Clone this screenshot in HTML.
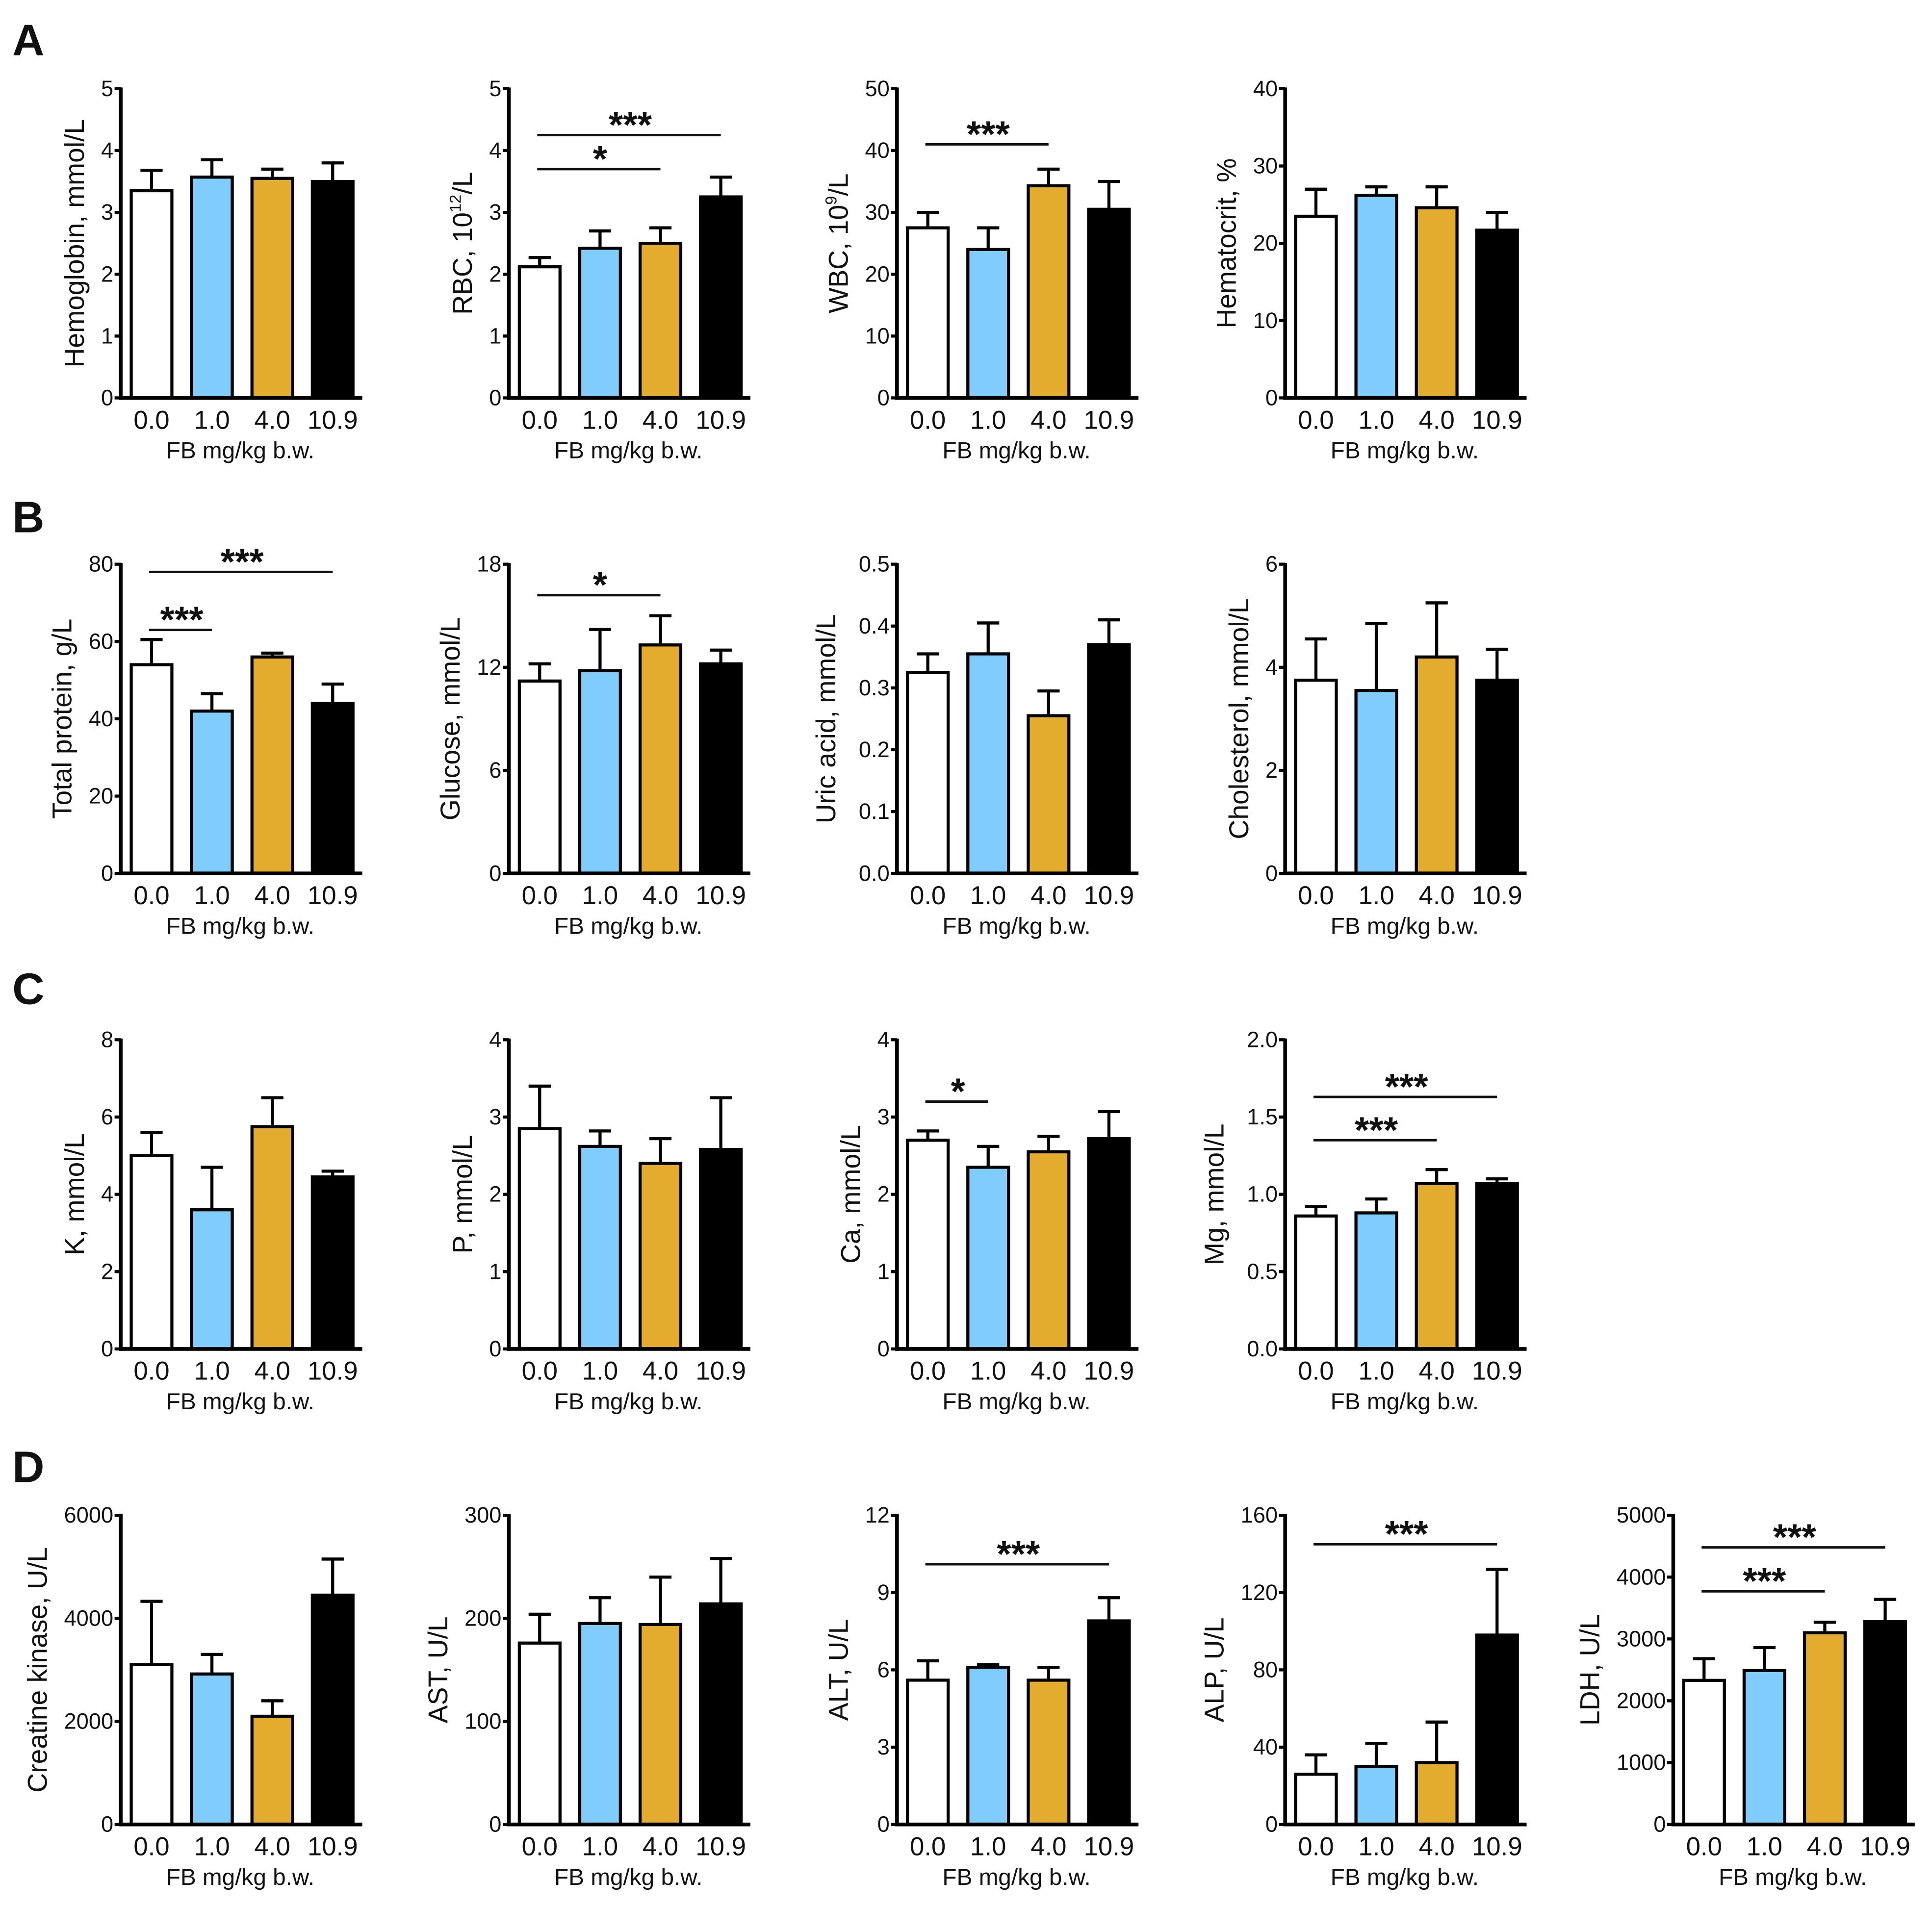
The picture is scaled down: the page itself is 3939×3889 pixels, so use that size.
<!DOCTYPE html>
<html><head><meta charset="utf-8"><style>
html,body{margin:0;padding:0;background:#fff}
svg{display:block}
text{font-family:"Liberation Sans",Arial,sans-serif;fill:#111}
</style></head><body>
<svg id="fig" xmlns="http://www.w3.org/2000/svg" width="3939" height="3889" viewBox="0 0 1568 1548" preserveAspectRatio="none">
<rect width="1568" height="1548" fill="#fff"/>
<text x="10" y="45" font-size="36" font-weight="bold">A</text>
<text x="10" y="432" font-size="36" font-weight="bold">B</text>
<text x="10" y="815" font-size="36" font-weight="bold">C</text>
<text x="10" y="1203" font-size="36" font-weight="bold">D</text>
</svg>
<script>
const categories = ["0.0","1.0","4.0","10.9"];
const barColors = ["#ffffff","#80ccfc","#e3ac2e","#000000"];
const titles = ["Hemoglobin, mmol/L","RBC, 10|12|/L","WBC, 10|9|/L","Hematocrit, %","Total protein, g/L","Glucose, mmol/L","Uric acid, mmol/L","Cholesterol, mmol/L","K, mmol/L","P, mmol/L","Ca, mmol/L","Mg, mmol/L","Creatine kinase, U/L","AST, U/L","ALT, U/L","ALP, U/L","LDH, U/L"];
const yMax = [5,5,50,40,80,18,0.5,6,8,4,4,2,6000,300,12,160,5000];
const yStep = [1,1,10,10,20,6,0.1,2,2,1,1,0.5,2000,100,3,40,1000];
const yDecimals = [0,0,0,0,0,0,1,0,0,0,0,1,0,0,0,0,0];
const means = [
[3.35,3.57,3.55,3.5],[2.12,2.42,2.5,3.25],[27.5,24,34.3,30.5],[23.5,26.2,24.6,21.7],
[54,42,56,44],[11.2,11.8,13.3,12.2],[0.325,0.355,0.255,0.37],[3.75,3.55,4.2,3.75],
[5.0,3.6,5.75,4.45],[2.85,2.62,2.4,2.58],[2.7,2.35,2.55,2.72],[0.86,0.88,1.07,1.07],
[3100,2920,2100,4450],[176,195,194,214],[5.6,6.1,5.6,7.9],[26,30,32,98],[2330,2490,3100,3280]];
const errTops = [
[3.68,3.85,3.7,3.8],[2.27,2.7,2.75,3.57],[30,27.5,37,35],[27,27.3,27.3,24],
[60.5,46.5,57,49],[12.2,14.2,15,13],[0.355,0.405,0.295,0.41],[4.55,4.85,5.25,4.35],
[5.6,4.7,6.5,4.6],[3.4,2.82,2.72,3.25],[2.82,2.62,2.75,3.07],[0.92,0.97,1.16,1.1],
[4330,3300,2400,5150],[204,220,240,258],[6.35,6.2,6.1,8.8],[36,42,53,132],[2680,2860,3270,3640]];
const sigs = [[1,0,3,4.25,"***"],[1,0,2,3.7,"*"],[2,0,2,41,"***"],[4,0,3,78,"***"],[4,0,1,63,"***"],
[5,0,2,16.2,"*"],[10,0,1,3.2,"*"],[11,0,3,1.63,"***"],[11,0,2,1.35,"***"],[14,0,3,10.1,"***"],
[15,0,3,145,"***"],[16,0,3,4480,"***"],[16,0,2,3770,"***"]];

const NS="http://www.w3.org/2000/svg";
const svg=document.getElementById('fig');
function mk(tag,attrs,parent){const e=document.createElementNS(NS,tag);for(const k in attrs)e.setAttribute(k,attrs[k]);(parent||svg).appendChild(e);return e;}
const axX=[98,413,728,1043,1358];
const rowTop=[72,458,844,1230];
const H=251;

for(let p=0;p<17;p++){
  const row=p<12?Math.floor(p/4):3;
  const col=p<12?p%4:p-12;
  const x0=axX[col], top=rowTop[row], bot=top+H;
  const g=mk('g',{});
  
  
  const ys=v=>bot-(v/yMax[p])*H;
  const xc=i=>x0+25+i*49;
  for(let i=0;i<4;i++){
    const yt=ys(means[p][i]), ye=ys(errTops[p][i]);
    const l=mk('line',{x1:xc(i),x2:xc(i),y1:yt,y2:ye,stroke:'#000','stroke-width':2.5},g);
    
    
    const c=mk('line',{x1:xc(i)-9,x2:xc(i)+9,y1:ye,y2:ye,stroke:'#000','stroke-width':2.5},g);
    
    
    const r=mk('rect',{x:xc(i)-16.5,y:yt,width:33,height:bot-yt,fill:barColors[i],stroke:'#000','stroke-width':2.5},g);
    
    
  }
  mk('line',{x1:x0,x2:x0,y1:top-1,y2:bot+1.5,stroke:'#000','stroke-width':3},g);
  mk('line',{x1:x0-1.5,x2:x0+196,y1:bot,y2:bot,stroke:'#000','stroke-width':3},g);
  let maxLen=0;
  const nT=Math.round(yMax[p]/yStep[p]);
  for(let k=0;k<=nT;k++){
    const v=k*yStep[p], y=ys(v);
    const lab=v.toFixed(yDecimals[p]);
    maxLen=Math.max(maxLen,lab.length);
    mk('line',{x1:x0-5,x2:x0,y1:y,y2:y,stroke:'#000','stroke-width':2.5},g);
    const t=mk('text',{x:x0-6,y:y+6,'font-size':18,'text-anchor':'end'},g);
    t.textContent=lab;
    
    
  }
  for(let i=0;i<4;i++){
    const t=mk('text',{x:xc(i),y:bot+25,'font-size':21,'text-anchor':'middle'},g);
    t.textContent=categories[i];
    
    
  }
  const xl=mk('text',{x:x0+97,y:bot+49,'font-size':19,'text-anchor':'middle'},g);
  xl.textContent='FB mg/kg b.w.';
  
  
  const tx=x0-20-maxLen*10, ty=(top+bot)/2;
  const yt=mk('text',{x:tx,y:ty,'font-size':22,'text-anchor':'middle',transform:`rotate(-90 ${tx} ${ty})`},g);
  
  
  const parts=titles[p].split('|');
  parts.forEach((s,j)=>{const ts=mk('tspan',{},yt);ts.textContent=s;
    if(j===1){ts.setAttribute('font-size','13');ts.setAttribute('dy','-9');}
    if(j===2){ts.setAttribute('dy','9');}});
}
sigs.forEach(s=>{
  const p=s[0];
  const row=p<12?Math.floor(p/4):3, col=p<12?p%4:p-12;
  const x0=axX[col], bot=rowTop[row]+H;
  const y=bot-(s[3]/yMax[p])*H;
  const a=x0+25+s[1]*49, b=x0+25+s[2]*49;
  const l=mk('line',{x1:a-2,x2:b,y1:y,y2:y,stroke:'#111','stroke-width':2});
  
  
  const t=mk('text',{x:(a+b)/2,y:y+2,'font-size':30,'font-weight':'bold','text-anchor':'middle'});
  t.textContent=s[4];
  
  
});
</script>
</body></html>
